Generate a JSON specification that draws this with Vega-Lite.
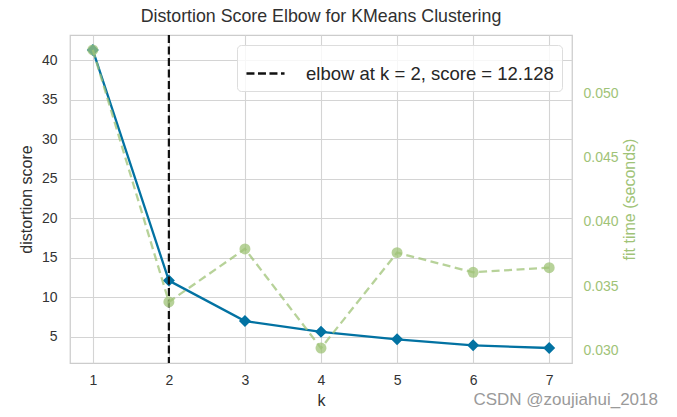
{
  "$schema": "https://vega.github.io/schema/vega-lite/v6.json",
  "width": 502,
  "height": 328,
  "autosize": {"type": "none"},
  "padding": {"left": 70, "top": 35, "right": 105, "bottom": 54},
  "background": "white",
  "title": {"text": "Distortion Score Elbow for KMeans Clustering", "fontSize": 17.8, "font": "Liberation Sans", "fontWeight": "normal", "color": "#303030", "offset": 8},
  "config": {
    "font": "Liberation Sans",
    "view": {"stroke": "#cccccc", "strokeWidth": 1.25},
    "axis": {"labelFont": "Liberation Sans", "titleFont": "Liberation Sans", "labelFontSize": 14, "titleFontSize": 16, "labelColor": "#333333", "titleColor": "#303030", "titleFontWeight": "normal", "ticks": false, "domain": false, "gridColor": "#d4d4d4", "gridWidth": 1.1},
    "legend": {"orient": "top-right", "offset": 10, "symbolType": "stroke", "symbolStrokeColor": "#111111", "symbolStrokeWidth": 2.3, "symbolSize": 1450, "labelFont": "Liberation Sans", "labelFontSize": 18.5, "labelColor": "#262626", "labelLimit": 400, "fillColor": "rgba(255,255,255,0.8)", "strokeColor": "#dddddd", "cornerRadius": 4, "padding": 8, "labelOffset": 20}
  },
  "datasets": {
    "scores": [
      {"k": 1, "distortion": 41.3, "fit_time": 0.05336},
      {"k": 2, "distortion": 12.128, "fit_time": 0.03377},
      {"k": 3, "distortion": 7.0, "fit_time": 0.03789},
      {"k": 4, "distortion": 5.64, "fit_time": 0.03018},
      {"k": 5, "distortion": 4.7, "fit_time": 0.0376},
      {"k": 6, "distortion": 3.94, "fit_time": 0.03607},
      {"k": 7, "distortion": 3.6, "fit_time": 0.03643}
    ],
    "elbow": [{"k": 2, "label": "elbow at k = 2, score = 12.128"}],
    "note": [{"text": "CSDN @zoujiahui_2018"}]
  },
  "layer": [
    {
      "layer": [
        {
          "data": {"name": "scores"},
          "mark": {"type": "line", "color": "#0272a2", "strokeWidth": 2.3},
          "encoding": {
            "x": {"field": "k", "type": "quantitative", "scale": {"domain": [0.7, 7.3], "nice": false, "zero": false}, "axis": {"values": [1, 2, 3, 4, 5, 6, 7], "format": "d", "title": "k", "grid": true, "labelPadding": 10, "titlePadding": 5}},
            "y": {"field": "distortion", "type": "quantitative", "scale": {"domain": [1.7, 43.2], "nice": false, "zero": false}, "axis": {"orient": "left", "values": [5, 10, 15, 20, 25, 30, 35, 40], "title": "distortion score", "grid": true, "labelPadding": 13, "titlePadding": 7}}
          }
        },
        {
          "data": {"name": "scores"},
          "mark": {"type": "point", "shape": "diamond", "filled": true, "color": "#0272a2", "opacity": 1, "size": 144},
          "encoding": {
            "x": {"field": "k", "type": "quantitative"},
            "y": {"field": "distortion", "type": "quantitative"}
          }
        },
        {
          "data": {"name": "elbow"},
          "mark": {"type": "rule", "color": "#111111", "strokeWidth": 2.2},
          "encoding": {
            "x": {"field": "k", "type": "quantitative"},
            "strokeDash": {"field": "label", "type": "nominal", "scale": {"range": [[8, 3.5]]}, "legend": {"title": null}}
          }
        },
        {
          "data": {"name": "note"},
          "mark": {"type": "text", "align": "right", "baseline": "middle", "fontSize": 17, "color": "#9a9a9a", "font": "Liberation Sans"},
          "encoding": {
            "x": {"datum": 8.43, "type": "quantitative"},
            "y": {"datum": -2.98, "type": "quantitative"},
            "text": {"field": "text", "type": "nominal"}
          }
        }
      ]
    },
    {
      "layer": [
        {
          "data": {"name": "scores"},
          "mark": {"type": "line", "color": "#9fc377", "strokeWidth": 2.3, "strokeDash": [8, 4.5], "opacity": 0.75},
          "encoding": {
            "x": {"field": "k", "type": "quantitative"},
            "y": {"field": "fit_time", "type": "quantitative", "scale": {"domain": [0.02902, 0.05452], "nice": false, "zero": false}, "axis": {"orient": "right", "values": [0.03, 0.035, 0.04, 0.045, 0.05], "format": ".3f", "title": "fit time (seconds)", "titleAngle": 270, "titleBaseline": "top", "grid": false, "labelColor": "#9fc377", "titleColor": "#9fc377", "labelPadding": 11, "titlePadding": 3}}
          }
        },
        {
          "data": {"name": "scores"},
          "mark": {"type": "point", "shape": "circle", "filled": true, "color": "#9fc377", "opacity": 0.75, "size": 120},
          "encoding": {
            "x": {"field": "k", "type": "quantitative"},
            "y": {"field": "fit_time", "type": "quantitative"}
          }
        }
      ]
    }
  ],
  "resolve": {"scale": {"y": "independent"}}
}
